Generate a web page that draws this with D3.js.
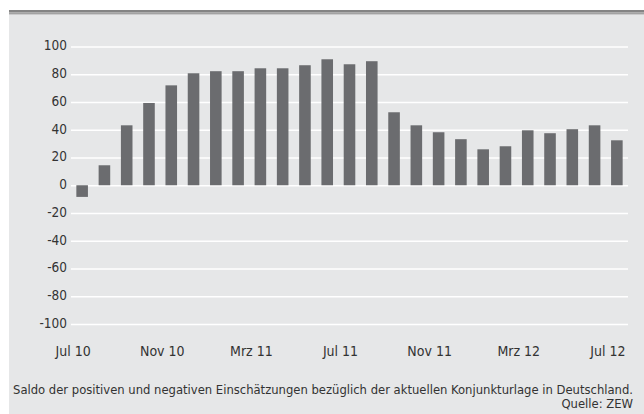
<!DOCTYPE html>
<html>
<head>
<meta charset="utf-8">
<script src="https://cdn.jsdelivr.net/npm/d3@7"></script>
<style>
  body { margin: 0; background: #fff; }
  svg text { font-family: "Liberation Sans Narrow", "DejaVu Sans Condensed", sans-serif; fill: #333; }
</style>
</head>
<body>
<div id="chart"></div>
<script>
// Data (ZEW, aktuelle Lage)
const months = ["Jul 10", "Aug 10", "Sep 10", "Okt 10", "Nov 10", "Dez 10",
                "Jan 11", "Feb 11", "Mrz 11", "Apr 11", "Mai 11", "Jun 11",
                "Jul 11", "Aug 11", "Sep 11", "Okt 11", "Nov 11", "Dez 11",
                "Jan 12", "Feb 12", "Mrz 12", "Apr 12", "Mai 12", "Jun 12", "Jul 12"];
const saldo = [-8.4, 14.4, 43.2, 59.3, 72.0, 80.7,
               82.2, 82.2, 84.3, 84.3, 86.5, 90.8,
               87.2, 89.4, 52.6, 43.2, 38.2, 33.2,
               25.9, 28.1, 39.6, 37.5, 40.4, 43.2, 32.4];
const yTicks = [100, 80, 60, 40, 20, 0, -20, -40, -60, -80, -100];
const xTickLabels = ["Jul 10", "Nov 10", "Mrz 11", "Jul 11", "Nov 11", "Mrz 12", "Jul 12"];
const footnote = "Saldo der positiven und negativen Einschätzungen bezüglich der aktuellen Konjunkturlage in Deutschland.";
const source = "Quelle: ZEW";

// layout
const width = 644, height = 414;
const plot = { left: 71, right: 628, top: 46.5, bottom: 324 };

const svg = d3.select("#chart").append("svg")
    .attr("width", width)
    .attr("height", height);

// grey panel + top rule
svg.append("rect").attr("x", 9).attr("y", 14).attr("width", width - 9).attr("height", height - 14)
    .attr("fill", "#e6e7e8");
svg.append("rect").attr("x", 9).attr("y", 10).attr("width", width - 9).attr("height", 2.6)
    .attr("fill", "#848484");
svg.append("rect").attr("x", 9).attr("y", 12.6).attr("width", width - 9).attr("height", 1.8)
    .attr("fill", "#a2a2a2");

const x = d3.scaleBand()
    .domain(months)
    .range([plot.left, plot.right])
    .paddingInner(0.48)
    .paddingOuter(0.24);

const y = d3.scaleLinear()
    .domain([-100, 100])
    .range([plot.bottom, plot.top]);

// y axis with gridlines (behind bars), plain hyphen for negatives
const yAxis = svg.append("g")
    .attr("transform", `translate(${plot.left},0)`)
    .call(d3.axisLeft(y).tickValues(yTicks).tickFormat(d => String(d))
        .tickSize(-(plot.right - plot.left)).tickPadding(4));
yAxis.select(".domain").remove();
yAxis.selectAll("line").attr("stroke", "#fff").attr("stroke-width", 1.6);
yAxis.selectAll("text")
    .attr("font-size", 13.5)
    .attr("dy", "0.25em");

// bars
svg.append("g").selectAll("rect")
    .data(months)
    .join("rect")
    .attr("x", d => x(d))
    .attr("width", x.bandwidth())
    .attr("y", (d, i) => y(Math.max(0, saldo[i])))
    .attr("height", (d, i) => Math.abs(y(saldo[i]) - y(0)))
    .attr("fill", "#6b6c6f");

// x axis labels
const xAxis = svg.append("g")
    .attr("transform", "translate(-9,346)")
    .call(d3.axisBottom(x).tickValues(xTickLabels).tickSize(0).tickPadding(0));
xAxis.select(".domain").remove();
xAxis.selectAll("text").attr("font-size", 14);

// footnote
svg.append("text")
    .attr("x", 633).attr("y", 394)
    .attr("text-anchor", "end")
    .attr("font-size", 12.9)
    .text(footnote);
svg.append("text")
    .attr("x", 633).attr("y", 408)
    .attr("text-anchor", "end")
    .attr("font-size", 12.9)
    .text(source);
</script>
</body>
</html>
